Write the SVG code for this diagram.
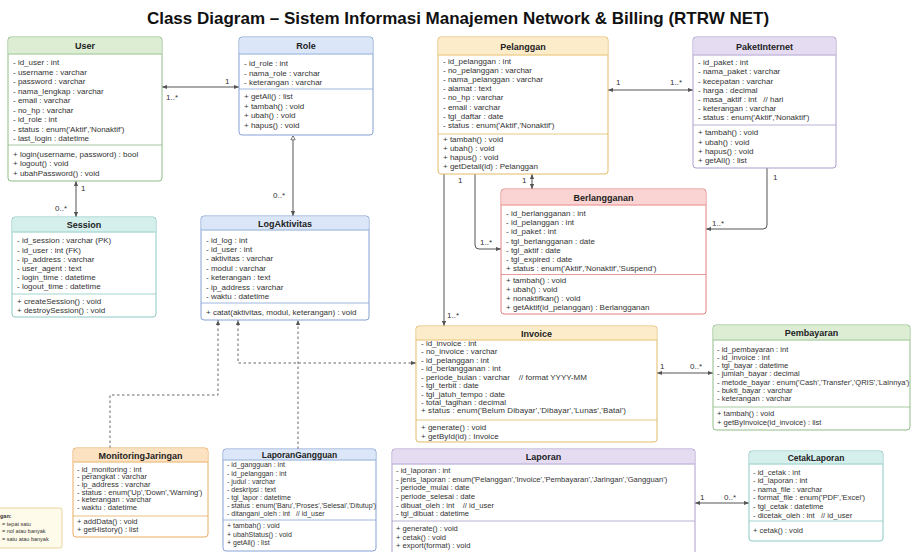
<svg xmlns="http://www.w3.org/2000/svg" width="912" height="552" viewBox="0 0 912 552">
<defs>
<marker id="ar" viewBox="0 0 6 6" refX="6" refY="3" markerWidth="5" markerHeight="5" orient="auto-start-reverse" markerUnits="userSpaceOnUse"><path d="M0,0.5 L6,3 L0,5.5 Z" fill="#555"/></marker>
<marker id="tri" viewBox="0 0 8 8" refX="4" refY="1" markerWidth="6" markerHeight="6" orient="0" markerUnits="userSpaceOnUse"><path d="M4,1 L7,6 L1,6 Z" fill="#fff" stroke="#555" stroke-width="1"/></marker>
<style>
text{font-family:"Liberation Sans",Arial,sans-serif;white-space:pre}
.t{font-size:8px;fill:#333}
.s{font-size:7px}
.m{font-size:7.6px}
.h{font-size:9px;font-weight:bold;text-anchor:middle;fill:#222}
.title{font-size:17px;font-weight:bold;text-anchor:middle;fill:#111}
.lb{font-size:8px;fill:#333}
.bx{fill:#fff;stroke-width:1}
.sep{stroke-width:0.8}
.green .bx,.green .sep{stroke:#8fbd88}.green .hd{fill:#dcedd4}
.blue .bx,.blue .sep{stroke:#85a3d3}.blue .hd{fill:#dbe7f8}
.teal .bx,.teal .sep{stroke:#8ccac4}.teal .hd{fill:#d5efed}
.yel .bx,.yel .sep{stroke:#e2bb66}.yel .hd{fill:#fdecca}
.pur .bx,.pur .sep{stroke:#ab9dcc}.pur .hd{fill:#e5dcf2}
.red .bx,.red .sep{stroke:#e38080}.red .hd{fill:#f9d4d2}
.org .bx,.org .sep{stroke:#e8ac62}.org .hd{fill:#fde2c2}
.ln{fill:none;stroke:#555;stroke-width:1}
.dash{fill:none;stroke:#666;stroke-width:1;stroke-dasharray:2.5,2.5}
</style>
</defs>
<rect width="912" height="552" fill="#fff"/>
<text class="title" x="458" y="24">Class Diagram – Sistem Informasi Manajemen Network &amp; Billing (RTRW NET)</text>

<g id="connectors">
<line class="ln" x1="162" y1="87" x2="239" y2="87" marker-start="url(#ar)" marker-end="url(#ar)"/>
<text class="lb" x="225" y="84">1</text>
<text class="lb" x="166" y="100">1..*</text>
<line class="ln" x1="76" y1="181" x2="76" y2="217" marker-start="url(#ar)" marker-end="url(#ar)"/>
<text class="lb" x="81" y="191">1</text>
<text class="lb" x="55" y="211">0..*</text>
<line class="ln" x1="293" y1="136" x2="293" y2="216" marker-start="url(#tri)" marker-end="url(#ar)"/>
<text class="lb" x="273" y="198">0..*</text>
<line class="ln" x1="608" y1="90" x2="693" y2="90" marker-start="url(#ar)" marker-end="url(#ar)"/>
<text class="lb" x="616" y="85">1</text>
<text class="lb" x="670" y="85">1..*</text>
<line class="ln" x1="532" y1="174" x2="532" y2="189" marker-start="url(#ar)" marker-end="url(#ar)"/>
<text class="lb" x="522" y="183">1</text>
<path class="ln" d="M475,174 V245 Q475,249 479,249 H501" marker-end="url(#ar)"/>
<text class="lb" x="458" y="183">1</text>
<text class="lb" x="480" y="245">1..*</text>
<line class="ln" x1="444" y1="174" x2="444" y2="326" marker-end="url(#ar)"/>
<text class="lb" x="447" y="318">1..*</text>
<path class="ln" d="M767,168 V225 Q767,229 763,229 H706" marker-end="url(#ar)"/>
<text class="lb" x="773" y="180">1</text>
<text class="lb" x="712" y="226">1..*</text>
<line class="ln" x1="657" y1="373" x2="713" y2="373" marker-start="url(#ar)" marker-end="url(#ar)"/>
<text class="lb" x="660" y="369">1</text>
<text class="lb" x="690" y="369">0..*</text>
<line class="ln" x1="695" y1="503" x2="749" y2="503" marker-start="url(#ar)" marker-end="url(#ar)"/>
<text class="lb" x="700" y="500">1</text>
<text class="lb" x="724" y="500">0..*</text>
<path class="dash" d="M110,448 V395 H218 V320" marker-end="url(#ar)"/>
<path class="dash" d="M416,363 H238 V320" marker-start="url(#ar)" marker-end="url(#ar)"/>
<path class="dash" d="M298,449 V320" marker-end="url(#ar)"/>
</g>

<g id="User" class="green">
<rect class="bx" x="8" y="37" width="154" height="144" rx="3"/>
<rect class="hd" x="8.5" y="37.5" width="153" height="17" rx="2.5"/>
<line class="sep" x1="8" y1="54" x2="162" y2="54"/>
<text class="h" x="85" y="49">User</text>
<text class="t" x="13" y="65">- id_user : int</text>
<text class="t" x="13" y="74.5">- username : varchar</text>
<text class="t" x="13" y="84">- password : varchar</text>
<text class="t" x="13" y="93.5">- nama_lengkap : varchar</text>
<text class="t" x="13" y="103">- email : varchar</text>
<text class="t" x="13" y="112.5">- no_hp : varchar</text>
<text class="t" x="13" y="122">- id_role : int</text>
<text class="t" x="13" y="131.5">- status : enum('Aktif','Nonaktif')</text>
<text class="t" x="13" y="141">- last_login : datetime</text>
<line class="sep" x1="8" y1="145" x2="162" y2="145"/>
<text class="t" x="13" y="156.5">+ login(username, password) : bool</text>
<text class="t" x="13" y="166">+ logout() : void</text>
<text class="t" x="13" y="175.5">+ ubahPassword() : void</text>
</g>

<g id="Role" class="blue">
<rect class="bx" x="239" y="37" width="134" height="98" rx="3"/>
<rect class="hd" x="239.5" y="37.5" width="133" height="17" rx="2.5"/>
<line class="sep" x1="239" y1="54" x2="373" y2="54"/>
<text class="h" x="306" y="49">Role</text>
<text class="t" x="244" y="66">- id_role : int</text>
<text class="t" x="244" y="75.5">- nama_role : varchar</text>
<text class="t" x="244" y="85">- keterangan : varchar</text>
<line class="sep" x1="239" y1="89" x2="373" y2="89"/>
<text class="t" x="244" y="99">+ getAll() : list</text>
<text class="t" x="244" y="108.5">+ tambah() : void</text>
<text class="t" x="244" y="118">+ ubah() : void</text>
<text class="t" x="244" y="127.5">+ hapus() : void</text>
</g>

<g id="Session" class="teal">
<rect class="bx" x="12" y="217" width="144" height="100" rx="3"/>
<rect class="hd" x="12.5" y="217.5" width="143" height="15" rx="2.5"/>
<line class="sep" x1="12" y1="232" x2="156" y2="232"/>
<text class="h" x="84" y="228">Session</text>
<text class="t" x="17" y="243">- id_session : varchar (PK)</text>
<text class="t" x="17" y="252.5">- id_user : int (FK)</text>
<text class="t" x="17" y="262">- ip_address : varchar</text>
<text class="t" x="17" y="271">- user_agent : text</text>
<text class="t" x="17" y="280">- login_time : datetime</text>
<text class="t" x="17" y="289">- logout_time : datetime</text>
<line class="sep" x1="12" y1="294" x2="156" y2="294"/>
<text class="t" x="17" y="304">+ createSession() : void</text>
<text class="t" x="17" y="313">+ destroySession() : void</text>
</g>

<g id="LogAktivitas" class="blue">
<rect class="bx" x="201" y="216" width="168" height="104" rx="3"/>
<rect class="hd" x="201.5" y="216.5" width="167" height="14" rx="2.5"/>
<line class="sep" x1="201" y1="230" x2="369" y2="230"/>
<text class="h" x="285" y="226.5">LogAktivitas</text>
<text class="t" x="206" y="242.5">- id_log : int</text>
<text class="t" x="206" y="252">- id_user : int</text>
<text class="t" x="206" y="261">- aktivitas : varchar</text>
<text class="t" x="206" y="270.5">- modul : varchar</text>
<text class="t" x="206" y="280">- keterangan : text</text>
<text class="t" x="206" y="289.5">- ip_address : varchar</text>
<text class="t" x="206" y="299">- waktu : datetime</text>
<line class="sep" x1="201" y1="303" x2="369" y2="303"/>
<text class="t" x="206" y="315">+ catat(aktivitas, modul, keterangan) : void</text>
</g>

<g id="Pelanggan" class="yel">
<rect class="bx" x="438" y="37" width="170" height="137" rx="3"/>
<rect class="hd" x="438.5" y="37.5" width="169" height="18" rx="2.5"/>
<line class="sep" x1="438" y1="55" x2="608" y2="55"/>
<text class="h" x="523" y="49.5">Pelanggan</text>
<text class="t" x="443" y="63.5">- id_pelanggan : int</text>
<text class="t" x="443" y="72.5">- no_pelanggan : varchar</text>
<text class="t" x="443" y="82">- nama_pelanggan : varchar</text>
<text class="t" x="443" y="91">- alamat : text</text>
<text class="t" x="443" y="100">- no_hp : varchar</text>
<text class="t" x="443" y="109.5">- email : varchar</text>
<text class="t" x="443" y="118.5">- tgl_daftar : date</text>
<text class="t" x="443" y="127.5">- status : enum('Aktif','Nonaktif')</text>
<line class="sep" x1="438" y1="134" x2="608" y2="134"/>
<text class="t" x="443" y="141.5">+ tambah() : void</text>
<text class="t" x="443" y="150.5">+ ubah() : void</text>
<text class="t" x="443" y="160">+ hapus() : void</text>
<text class="t" x="443" y="169">+ getDetail(id) : Pelanggan</text>
</g>

<g id="PaketInternet" class="pur">
<rect class="bx" x="693" y="37" width="143" height="131" rx="3"/>
<rect class="hd" x="693.5" y="37.5" width="142" height="18" rx="2.5"/>
<line class="sep" x1="693" y1="55" x2="836" y2="55"/>
<text class="h" x="764.5" y="49.5">PaketInternet</text>
<text class="t" x="698" y="65">- id_paket : int</text>
<text class="t" x="698" y="74">- nama_paket : varchar</text>
<text class="t" x="698" y="83.5">- kecepatan : varchar</text>
<text class="t" x="698" y="92.5">- harga : decimal</text>
<text class="t" x="698" y="101.5">- masa_aktif : int   // hari</text>
<text class="t" x="698" y="110.5">- keterangan : varchar</text>
<text class="t" x="698" y="120">- status : enum('Aktif','Nonaktif')</text>
<line class="sep" x1="693" y1="125" x2="836" y2="125"/>
<text class="t" x="698" y="135">+ tambah() : void</text>
<text class="t" x="698" y="144.5">+ ubah() : void</text>
<text class="t" x="698" y="153.5">+ hapus() : void</text>
<text class="t" x="698" y="163">+ getAll() : list</text>
</g>

<g id="Berlangganan" class="red">
<rect class="bx" x="501" y="189" width="205" height="125" rx="3"/>
<rect class="hd" x="501.5" y="189.5" width="204" height="16" rx="2.5"/>
<line class="sep" x1="501" y1="205" x2="706" y2="205"/>
<text class="h" x="603.5" y="200.5">Berlangganan</text>
<text class="t" x="506" y="215.5">- id_berlangganan : int</text>
<text class="t" x="506" y="224.5">- id_pelanggan : int</text>
<text class="t" x="506" y="234">- id_paket : int</text>
<text class="t" x="506" y="243.5">- tgl_berlangganan : date</text>
<text class="t" x="506" y="252.5">- tgl_aktif : date</text>
<text class="t" x="506" y="261.5">- tgl_expired : date</text>
<text class="t" x="506" y="270.5">+ status : enum('Aktif','Nonaktif','Suspend')</text>
<line class="sep" x1="501" y1="274.5" x2="706" y2="274.5"/>
<text class="t" x="506" y="282.5">+ tambah() : void</text>
<text class="t" x="506" y="291.5">+ ubah() : void</text>
<text class="t" x="506" y="300.5">+ nonaktifkan() : void</text>
<text class="t" x="506" y="310">+ getAktif(id_pelanggan) : Berlangganan</text>
</g>

<g id="Invoice" class="yel">
<rect class="bx" x="416" y="326" width="241" height="116" rx="3"/>
<rect class="hd" x="416.5" y="326.5" width="240" height="14" rx="2.5"/>
<line class="sep" x1="416" y1="340" x2="657" y2="340"/>
<text class="h" x="536.5" y="336.5">Invoice</text>
<text class="t" x="421" y="345.5">- id_invoice : int</text>
<text class="t" x="421" y="354">- no_invoice : varchar</text>
<text class="t" x="421" y="362.5">- id_pelanggan : int</text>
<text class="t" x="421" y="370.5">- id_berlangganan : int</text>
<text class="t" x="421" y="379.5">- periode_bulan : varchar    // format YYYY-MM</text>
<text class="t" x="421" y="388">- tgl_terbit : date</text>
<text class="t" x="421" y="396.5">- tgl_jatuh_tempo : date</text>
<text class="t" x="421" y="404.5">- total_tagihan : decimal</text>
<text class="t" x="421" y="413" textLength="205" lengthAdjust="spacing">+ status : enum('Belum Dibayar','Dibayar','Lunas','Batal')</text>
<line class="sep" x1="416" y1="420" x2="657" y2="420"/>
<text class="t" x="421" y="429.5">+ generate() : void</text>
<text class="t" x="421" y="439">+ getById(id) : Invoice</text>
</g>

<g id="Pembayaran" class="green">
<rect class="bx" x="713" y="325" width="197" height="105" rx="3"/>
<rect class="hd" x="713.5" y="325.5" width="196" height="15" rx="2.5"/>
<line class="sep" x1="713" y1="340" x2="910" y2="340"/>
<text class="h" x="811.5" y="336">Pembayaran</text>
<text class="t m" x="717" y="351.5">- id_pembayaran : int</text>
<text class="t m" x="717" y="359.5">- id_invoice : int</text>
<text class="t m" x="717" y="367.5">- tgl_bayar : datetime</text>
<text class="t m" x="717" y="376">- jumlah_bayar : decimal</text>
<text class="t m" x="717" y="384.5">- metode_bayar : enum('Cash','Transfer','QRIS','Lainnya')</text>
<text class="t m" x="717" y="392.5">- bukti_bayar : varchar</text>
<text class="t m" x="717" y="401">- keterangan : varchar</text>
<line class="sep" x1="713" y1="407" x2="910" y2="407"/>
<text class="t m" x="717" y="415.5">+ tambah() : void</text>
<text class="t m" x="717" y="424.5">+ getByInvoice(id_invoice) : list</text>
</g>

<g id="MonitoringJaringan" class="org">
<rect class="bx" x="73" y="448" width="135" height="89" rx="3"/>
<rect class="hd" x="73.5" y="448.5" width="134" height="14" rx="2.5"/>
<line class="sep" x1="73" y1="462" x2="208" y2="462"/>
<text class="h" x="140.5" y="458.5">MonitoringJaringan</text>
<text class="t m" x="77" y="471.5">- id_monitoring : int</text>
<text class="t m" x="77" y="479">- perangkat : varchar</text>
<text class="t m" x="77" y="486.5">- ip_address : varchar</text>
<text class="t m" x="77" y="494.5">- status : enum('Up','Down','Warning')</text>
<text class="t m" x="77" y="502">- keterangan : varchar</text>
<text class="t m" x="77" y="510">- waktu : datetime</text>
<line class="sep" x1="73" y1="516" x2="208" y2="516"/>
<text class="t m" x="77" y="524">+ addData() : void</text>
<text class="t m" x="77" y="532">+ getHistory() : list</text>
</g>

<g id="LaporanGangguan" class="blue">
<rect class="bx" x="223" y="449" width="153" height="102" rx="3"/>
<rect class="hd" x="223.5" y="449.5" width="152" height="11" rx="2.5"/>
<line class="sep" x1="223" y1="460" x2="376" y2="460"/>
<text class="h" x="299.5" y="457.5" style="font-size:8.5px">LaporanGangguan</text>
<text class="t s" x="227" y="467">- id_gangguan : int</text>
<text class="t s" x="227" y="475.5">- id_pelanggan : int</text>
<text class="t s" x="227" y="484">- judul : varchar</text>
<text class="t s" x="227" y="492">- deskripsi : text</text>
<text class="t s" x="227" y="500">- tgl_lapor : datetime</text>
<text class="t s" x="227" y="508">- status : enum('Baru','Proses','Selesai','Ditutup')</text>
<text class="t s" x="227" y="516">- ditangani_oleh : int   // id_user</text>
<line class="sep" x1="223" y1="520" x2="376" y2="520"/>
<text class="t s" x="227" y="528">+ tambah() : void</text>
<text class="t s" x="227" y="536.5">+ ubahStatus() : void</text>
<text class="t s" x="227" y="545">+ getAll() : list</text>
</g>

<g id="Laporan" class="pur">
<rect class="bx" x="392" y="449" width="303" height="110" rx="3"/>
<rect class="hd" x="392.5" y="449.5" width="302" height="15" rx="2.5"/>
<line class="sep" x1="392" y1="464" x2="695" y2="464"/>
<text class="h" x="543.5" y="460">Laporan</text>
<text class="t m" x="396" y="473">- id_laporan : int</text>
<text class="t m" x="396" y="481.5">- jenis_laporan : enum('Pelanggan','Invoice','Pembayaran','Jaringan','Gangguan')</text>
<text class="t m" x="396" y="490">- periode_mulai : date</text>
<text class="t m" x="396" y="499">- periode_selesai : date</text>
<text class="t m" x="396" y="507.5">- dibuat_oleh : int    // id_user</text>
<text class="t m" x="396" y="516">- tgl_dibuat : datetime</text>
<line class="sep" x1="392" y1="521" x2="695" y2="521"/>
<text class="t m" x="396" y="530.5">+ generate() : void</text>
<text class="t m" x="396" y="539.5">+ cetak() : void</text>
<text class="t m" x="396" y="548">+ export(format) : void</text>
</g>

<g id="CetakLaporan" class="teal">
<rect class="bx" x="749" y="451" width="134" height="90" rx="3"/>
<rect class="hd" x="749.5" y="451.5" width="133" height="13" rx="2.5"/>
<line class="sep" x1="749" y1="464" x2="883" y2="464"/>
<text class="h" x="816" y="461" style="font-size:8.5px">CetakLaporan</text>
<text class="t m" x="753" y="474.5">- id_cetak : int</text>
<text class="t m" x="753" y="483">- id_laporan : int</text>
<text class="t m" x="753" y="491.5">- nama_file : varchar</text>
<text class="t m" x="753" y="499.5">- format_file : enum('PDF','Excel')</text>
<text class="t m" x="753" y="509">- tgl_cetak : datetime</text>
<text class="t m" x="753" y="517.5">- dicetak_oleh : int   // id_user</text>
<line class="sep" x1="749" y1="521" x2="883" y2="521"/>
<text class="t m" x="753" y="533">+ cetak() : void</text>
</g>

<g id="Legend">
<rect x="-4" y="508" width="66" height="40" rx="2" fill="#fffbea" stroke="#e0c98a" stroke-width="0.8"/>
<text class="t" style="font-size:5.5px;font-weight:bold" x="0" y="518">gan:</text>
<text class="t" style="font-size:5.5px" x="2" y="525.5">= tepat satu</text>
<text class="t" style="font-size:5.5px" x="2" y="533">= nol atau banyak</text>
<text class="t" style="font-size:5.5px" x="2" y="540.5">= satu atau banyak</text>
</g>
</svg>
